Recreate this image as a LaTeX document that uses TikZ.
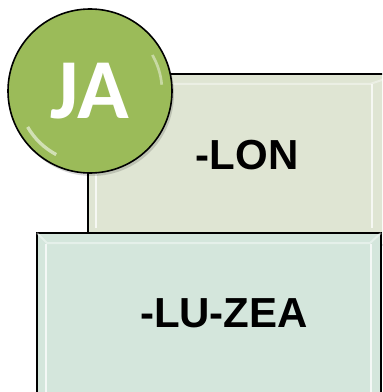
\documentclass[tikz,border=0pt]{standalone}
\usepackage{fontspec}
\setmainfont{Liberation Sans}
\newfontfamily\badgefont{Carlito}

\begin{document}
\begin{tikzpicture}[x=0.75pt,y=0.75pt,yscale=-1,xscale=1,
  boxlabel/.style={inner sep=0.75pt,font=\bfseries\fontsize{31.5}{36}\selectfont},
  bevel/.style={draw=white,draw opacity=0.75,line width=1.5},
  badge/.style={circle,draw={rgb, 255:red, 0; green, 0; blue, 0 },line width=1.2,
    fill={rgb, 255:red, 155; green, 187; blue, 89 },minimum size=123pt,inner sep=0pt,
    text=white,font=\badgefont\bfseries\fontsize{64}{70}\selectfont}]
\path[use as bounding box] (0,0) rectangle (382,392);
\clip (0,0) rectangle (382,392);

%Shape: Rectangle [upper box]
\draw [fill={rgb, 255:red, 223; green, 229; blue, 211 },line width=1.2] (88,74) rectangle (400,245);
\draw [bevel] (96,84) -- (96,228) ;
\draw [bevel] (372,84) -- (372,228) ;
\draw [bevel,draw opacity=0.4] (88,74) -- (98,84) -- (370,84) -- (400,74) ;

%Shape: Rectangle [lower box]
\draw [fill={rgb, 255:red, 212; green, 230; blue, 220 },line width=1.2] (37,233) rectangle (381,400);
\draw [bevel] (46,244) -- (46,392) ;
\draw [bevel] (371,244) -- (371,392) ;
\draw [bevel,draw opacity=0.4] (37,233) -- (47,243) -- (370,243) -- (381,233) ;

% Text Node
\node [boxlabel] (lon) at (247,155) {-LON};
% Text Node
\node [boxlabel] (luzea) at (224,313) {-LU-ZEA};

%Shape: Circle [badge]
\fill [black,opacity=0.15] (92,94) circle (82) ;
\node [badge] (ja) at (90,91) {JA};
\draw [white,opacity=0.55,line width=2.5] ([shift={(0,0)}]ja.center) ++(150:72) arc (150:118:72) ;
\draw [white,opacity=0.45,line width=2] (ja.center) ++(-30:72) arc (-30:-5:72) ;

\end{tikzpicture}
\end{document}
